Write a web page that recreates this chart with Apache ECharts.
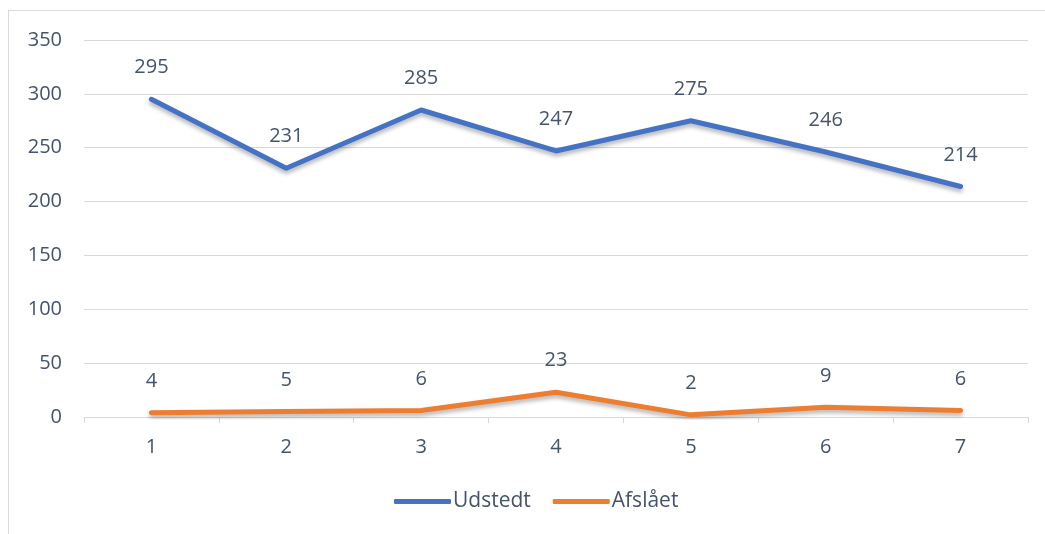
<!DOCTYPE html>
<html>
<head>
<meta charset="utf-8">
<script src="https://cdn.jsdelivr.net/npm/echarts@6/dist/echarts.min.js"></script>
<style>
  html, body { margin: 0; padding: 0; background: #fff; }
  #box { position: absolute; left: 8px; top: 10px; width: 1045px; height: 534px; border: 1px solid #d9d9d9; box-sizing: border-box; }
  #chart { position: absolute; left: 0; top: 0; width: 1045px; height: 534px; }
</style>
</head>
<body>
<div id="box"></div>
<div id="chart"></div>
<script>
// kategorier og serier
const categories = ['1', '2', '3', '4', '5', '6', '7']
const udstedt = [295, 231, 285, 247, 275, 246, 214]
const afslaaet = [4, 5, 6, 23, 2, 9, 6]

const textColor = '#44546A'
const font = 'Open Sans'
const fs = 20

const chart = echarts.init(document.getElementById('chart'))

const lineSeries = (name, data, color) => ({
  name,
  type: 'line',
  data,
  symbol: 'circle',
  symbolSize: 3,
  showSymbol: true,
  showAllSymbol: true,
  lineStyle: {
    width: 5,
    color,
    cap: 'round',
    shadowColor: 'rgba(0,0,0,0.3)',
    shadowBlur: 4,
    shadowOffsetY: 3
  },
  itemStyle: { color },
  label: {
    show: true,
    position: 'top',
    distance: 20,
    color: textColor,
    fontFamily: font,
    fontSize: fs
  }
})

chart.setOption({
  animation: false,
  textStyle: { fontFamily: font },
  grid: { left: 84, right: 17, top: 40, bottom: 117 },
  legend: {
    bottom: 17,
    left: 389,
    itemWidth: 57,
    itemHeight: 5,
    itemGap: 22,
    icon: 'roundRect',
    textStyle: { color: textColor, fontSize: 21, fontFamily: font, padding: [0, 0, 0, -3] },
    data: ['Udstedt', 'Afslået']
  },
  xAxis: {
    type: 'category',
    data: categories,
    boundaryGap: true,
    axisLine: { lineStyle: { color: '#d9d9d9', width: 1 } },
    axisTick: { show: true, length: 6, lineStyle: { color: '#d9d9d9' } },
    axisLabel: { color: textColor, fontSize: fs, margin: 20, fontFamily: font }
  },
  yAxis: {
    type: 'value',
    min: 0,
    max: 350,
    interval: 50,
    axisLine: { show: false },
    axisTick: { show: false },
    axisLabel: { color: textColor, fontSize: fs, margin: 22, fontFamily: font },
    splitLine: { lineStyle: { color: '#d9d9d9', width: 1 } }
  },
  series: [
    lineSeries('Udstedt', udstedt, '#4472C4'),
    lineSeries('Afslået', afslaaet, '#ED7D31')
  ]
})
</script>
</body>
</html>
